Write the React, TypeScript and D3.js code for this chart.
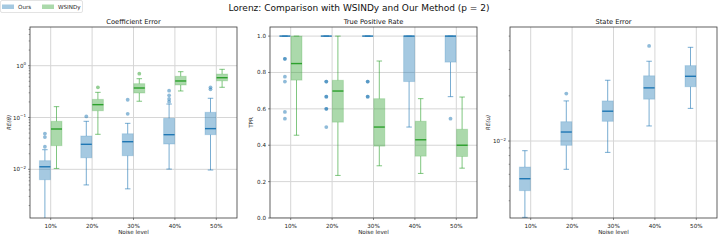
import React from 'react';
import * as d3 from 'd3';

const categories = ['10%', '20%', '30%', '40%', '50%'];

// Box stats: [whisker low, Q1, median, Q3, whisker high]
const coefOursStats = [
  [0.0008, 0.0063, 0.0112, 0.0147, 0.0239],
  [0.005, 0.0167, 0.0304, 0.044, 0.0845],
  [0.0042, 0.0183, 0.0341, 0.0486, 0.0772],
  [0.0101, 0.0308, 0.0466, 0.0966, 0.182],
  [0.0097, 0.0466, 0.061, 0.126, 0.235],
];
const coefOursFliers = [
  [0.049, 0.042, 0.0273],
  [0.105],
  [0.118, 0.22],
  [0.202, 0.228, 0.268, 0.329],
  [0.35, 0.383],
];
const coefWsindyStats = [
  [0.0104, 0.0286, 0.06, 0.0845, 0.162],
  [0.0474, 0.135, 0.177, 0.224, 0.306],
  [0.206, 0.297, 0.371, 0.45, 0.561],
  [0.325, 0.424, 0.507, 0.624, 0.766],
  [0.383, 0.51, 0.586, 0.69, 0.851],
];
const coefWsindyFliers = [[], [0.383], [0.7], [], []];

const tprOursStats = [
  [1, 1, 1, 1, 1],
  [1, 1, 1, 1, 1],
  [1, 1, 1, 1, 1],
  [0.5, 0.75, 1, 1, 1],
  [0.667, 0.857, 1, 1, 1],
];
const tprOursFliers = [
  [0.875, 0.875, 0.777, 0.75, 0.583, 0.546],
  [0.75, 0.75, 0.667, 0.667, 0.6, 0.6, 0.5],
  [0.75, 0.75, 0.667, 0.667],
  [],
  [0.546],
];
const tprWsindyStats = [
  [0.455, 0.758, 0.849, 1, 1],
  [0.234, 0.527, 0.698, 0.757, 1],
  [0.287, 0.395, 0.5, 0.656, 0.863],
  [0.245, 0.34, 0.43, 0.532, 0.656],
  [0.274, 0.338, 0.4, 0.488, 0.665],
];
const tprWsindyFliers = [[], [], [], [], []];

const stateOursStats = [
  [0.0031, 0.00467, 0.00561, 0.00671, 0.00862],
  [0.00648, 0.00936, 0.01148, 0.01345, 0.0185],
  [0.0084, 0.01353, 0.0158, 0.0185, 0.0254],
  [0.0126, 0.019, 0.0226, 0.0272, 0.034],
  [0.0165, 0.023, 0.027, 0.0318, 0.0421],
];
const stateOursFliers = [[], [0.0207], [], [0.043], []];

const tprTicks = [0, 0.2, 0.4, 0.6, 0.8, 1.0];

const BLUE = '#1f77b4';
const GREEN = '#2ca02c';
const FONT = 'DejaVu Sans, sans-serif';
const TOP = 27;
const BOTTOM = 218;

type Series = { stats: number[][]; fliers: number[][]; color: string; offset: number };

function supLabel(v: number) {
  const e = Math.round(Math.log10(v));
  const s = e < 0 ? '\u2212' + Math.abs(e) : String(e);
  return { base: '10', exp: s };
}

function Panel(props: {
  id: string;
  left: number;
  right: number;
  title: string;
  ylabel: string;
  ylabelX: number;
  log: boolean;
  domain: [number, number];
  series: Series[];
}) {
  const { id, left, right, title, ylabel, ylabelX, log, domain, series } = props;
  const y: any = log
    ? d3.scaleLog().domain(domain).range([BOTTOM, TOP])
    : d3.scaleLinear().domain(domain).range([BOTTOM, TOP]);
  const x = d3.scaleBand().domain(categories).range([left, right]);
  const cx = (c: string) => (x(c) as number) + x.bandwidth() / 2;

  let major: number[] = [];
  let minor: number[] = [];
  if (log) {
    const all: number[] = y.ticks();
    all.forEach((t) => {
      const l = Math.log10(t);
      if (Math.abs(l - Math.round(l)) < 1e-9) major.push(t);
      else minor.push(t);
    });
  } else {
    major = tprTicks;
  }

  const boxW = 11;
  const capW = 5.5;
  const grid = '#d6d6d6';

  return (
    <g>
      <defs>
        <clipPath id={`clip-${id}`}>
          <rect x={left} y={TOP} width={right - left} height={BOTTOM - TOP} />
        </clipPath>
      </defs>
      <text x={(left + right) / 2} y={23.5} textAnchor="middle" fontSize={6.7} fontFamily={FONT} fill="#111">
        {title}
      </text>
      <g clipPath={`url(#clip-${id})`}>
        {categories.map((c) => (
          <line key={c} x1={cx(c)} x2={cx(c)} y1={TOP} y2={BOTTOM} stroke={grid} strokeWidth={1} />
        ))}
        {major.map((t) => (
          <line key={t} x1={left} x2={right} y1={y(t)} y2={y(t)} stroke={grid} strokeWidth={1} />
        ))}
        {series.map((s, si) =>
          categories.map((c, i) => {
            const [lo, q1, med, q3, hi] = s.stats[i];
            const xc = cx(c) + s.offset;
            return (
              <g key={`${si}-${c}`}>
                <line x1={xc} x2={xc} y1={y(q1)} y2={y(lo)} stroke={s.color} strokeOpacity={0.6} strokeWidth={1} />
                <line x1={xc} x2={xc} y1={y(q3)} y2={y(hi)} stroke={s.color} strokeOpacity={0.6} strokeWidth={1} />
                <line x1={xc - capW / 2} x2={xc + capW / 2} y1={y(lo)} y2={y(lo)} stroke={s.color} strokeOpacity={0.6} strokeWidth={1} />
                <line x1={xc - capW / 2} x2={xc + capW / 2} y1={y(hi)} y2={y(hi)} stroke={s.color} strokeOpacity={0.6} strokeWidth={1} />
                <rect
                  x={xc - boxW / 2}
                  y={y(q3)}
                  width={boxW}
                  height={Math.max(0, y(q1) - y(q3))}
                  fill={s.color}
                  fillOpacity={0.4}
                  stroke={s.color}
                  strokeOpacity={0.2}
                  strokeWidth={1}
                />
                <line x1={xc - boxW / 2} x2={xc + boxW / 2} y1={y(med)} y2={y(med)} stroke={s.color} strokeWidth={1.4} />
                {s.fliers[i].map((f, k) => (
                  <circle key={k} cx={xc} cy={y(f)} r={1.9} fill={s.color} fillOpacity={0.5} />
                ))}
              </g>
            );
          })
        )}
      </g>
      {/* spines */}
      <rect x={left} y={TOP} width={right - left} height={BOTTOM - TOP} fill="none" stroke="#3a3a3a" strokeWidth={0.8} />
      {/* x ticks */}
      {categories.map((c) => (
        <g key={c}>
          <line x1={cx(c)} x2={cx(c)} y1={BOTTOM} y2={BOTTOM + 2} stroke="#3a3a3a" strokeWidth={0.6} />
          <text x={cx(c)} y={227.5} textAnchor="middle" fontSize={5.6} fontFamily={FONT} fill="#222">
            {c}
          </text>
        </g>
      ))}
      <text x={(left + right) / 2} y={234} textAnchor="middle" fontSize={5.6} fontFamily={FONT} fill="#222">
        Noise level
      </text>
      {/* y ticks */}
      {major.map((t) => {
        const lab = supLabel(t);
        return (
          <g key={t}>
            <line x1={left - 2} x2={left} y1={y(t)} y2={y(t)} stroke="#3a3a3a" strokeWidth={0.6} />
            {log ? (
              <text x={left - 4} y={y(t) + 2} textAnchor="end" fontSize={5.6} fontFamily={FONT} fill="#222">
                <tspan>{lab.base}</tspan>
                <tspan dy={-2.4} fontSize={4}>
                  {lab.exp}
                </tspan>
              </text>
            ) : (
              <text x={left - 4} y={y(t) + 2} textAnchor="end" fontSize={5.6} fontFamily={FONT} fill="#222">
                {t.toFixed(1)}
              </text>
            )}
          </g>
        );
      })}
      {minor.map((t) => (
        <line key={t} x1={left - 1.3} x2={left} y1={y(t)} y2={y(t)} stroke="#3a3a3a" strokeWidth={0.5} />
      ))}
      <text
        transform={`translate(${ylabelX},${(TOP + BOTTOM) / 2}) rotate(-90)`}
        textAnchor="middle"
        fontSize={5.6}
        fontFamily={FONT}
        fontStyle={log ? 'italic' : 'normal'}
        fill="#222"
      >
        {ylabel}
      </text>
    </g>
  );
}

export default function App() {
  const off = 5.8;
  return (
    <svg width={718} height={242} style={{ position: 'absolute', left: 0, top: 0, background: '#fff' }}>
      <rect width={718} height={242} fill="#fff" />
      <text x={359} y={10.5} textAnchor="middle" fontSize={9} fontFamily={FONT} fill="#111">
        Lorenz: Comparison with WSINDy and Our Method (p = 2)
      </text>
      {/* legend */}
      <g>
        <rect x={0.5} y={0.5} width={82} height={12} rx={1.5} fill="#fff" stroke="#d0d0d0" strokeWidth={0.6} />
        <rect x={2} y={4.5} width={12} height={4.5} fill={BLUE} fillOpacity={0.4} />
        <text x={18} y={9} fontSize={5.6} fontFamily={FONT} fill="#222">
          Ours
        </text>
        <rect x={42} y={4.5} width={12} height={4.5} fill={GREEN} fillOpacity={0.4} />
        <text x={58} y={9} fontSize={5.6} fontFamily={FONT} fill="#222">
          WSINDy
        </text>
      </g>
      <Panel
        id="coef"
        left={30}
        right={237}
        title="Coefficient Error"
        ylabel="RE(θ)"
        ylabelX={11}
        log={true}
        domain={[0.00115, 5.58]}
        series={[
          { stats: coefOursStats, fliers: coefOursFliers, color: BLUE, offset: -off },
          { stats: coefWsindyStats, fliers: coefWsindyFliers, color: GREEN, offset: off },
        ]}
      />
      <Panel
        id="tpr"
        left={270}
        right={477}
        title="True Positive Rate"
        ylabel="TPR"
        ylabelX={253}
        log={false}
        domain={[0, 1.05]}
        series={[
          { stats: tprOursStats, fliers: tprOursFliers, color: BLUE, offset: -off },
          { stats: tprWsindyStats, fliers: tprWsindyFliers, color: GREEN, offset: off },
        ]}
      />
      <Panel
        id="state"
        left={510}
        right={717}
        title="State Error"
        ylabel="RE(u)"
        ylabelX={490}
        log={true}
        domain={[0.00307, 0.0575]}
        series={[{ stats: stateOursStats, fliers: stateOursFliers, color: BLUE, offset: -off }]}
      />
    </svg>
  );
}
